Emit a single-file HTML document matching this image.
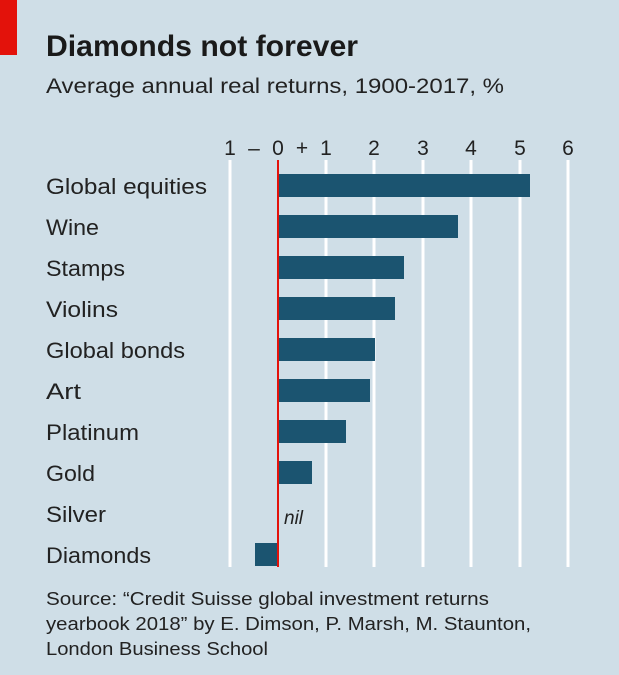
<!DOCTYPE html>
<html><head><style>
body{margin:0;width:619px;height:675px;background:#cfdee7;overflow:hidden;font-family:"Liberation Sans",sans-serif;color:#1a1a1a}
</style></head><body>
<svg width="619" height="675" xmlns="http://www.w3.org/2000/svg" style="position:absolute;left:0;top:0">
<rect width="619" height="675" fill="#cfdee7"/>
<rect x="0" y="0" width="17" height="55" fill="#e3120b"/>
<text x="46" y="56" font-size="30" font-weight="bold" fill="#1a1a1a" textLength="312" lengthAdjust="spacingAndGlyphs">Diamonds not forever</text>
<text x="46" y="93" font-size="21" fill="#222" textLength="458" lengthAdjust="spacingAndGlyphs">Average annual real returns, 1900-2017, %</text>
<g stroke="#ffffff" stroke-width="3">
<line x1="230" y1="160" x2="230" y2="567"/><line x1="326" y1="160" x2="326" y2="567"/>
<line x1="374" y1="160" x2="374" y2="567"/><line x1="423" y1="160" x2="423" y2="567"/>
<line x1="471" y1="160" x2="471" y2="567"/><line x1="520" y1="160" x2="520" y2="567"/>
<line x1="568" y1="160" x2="568" y2="567"/>
</g>
<g font-size="21" fill="#222" text-anchor="middle">
<text x="230" y="155">1</text><text x="254" y="155">–</text><text x="278" y="155">0</text><text x="302" y="155">+</text><text x="326" y="155">1</text><text x="374" y="155">2</text><text x="423" y="155">3</text><text x="471" y="155">4</text><text x="520" y="155">5</text><text x="568" y="155">6</text>
</g>
<g fill="#1b5470">
<rect x="278" y="174" width="252" height="23"/>
<rect x="278" y="215" width="180" height="23"/>
<rect x="278" y="256" width="126" height="23"/>
<rect x="278" y="297" width="117" height="23"/>
<rect x="278" y="338" width="97" height="23"/>
<rect x="278" y="379" width="92" height="23"/>
<rect x="278" y="420" width="68" height="23"/>
<rect x="278" y="461" width="34" height="23"/>
<rect x="255" y="543" width="23" height="23"/>
</g>
<line x1="278" y1="160" x2="278" y2="567" stroke="#e3120b" stroke-width="2"/>
<text x="284" y="524" font-size="19" font-style="italic" fill="#222">nil</text>
<g font-size="22" fill="#222" lengthAdjust="spacingAndGlyphs">
<text x="46" y="194" textLength="161" lengthAdjust="spacingAndGlyphs">Global equities</text>
<text x="46" y="235" textLength="53" lengthAdjust="spacingAndGlyphs">Wine</text>
<text x="46" y="276" textLength="79" lengthAdjust="spacingAndGlyphs">Stamps</text>
<text x="46" y="317" textLength="72" lengthAdjust="spacingAndGlyphs">Violins</text>
<text x="46" y="358" textLength="139" lengthAdjust="spacingAndGlyphs">Global bonds</text>
<text x="46" y="399" textLength="35" lengthAdjust="spacingAndGlyphs">Art</text>
<text x="46" y="440" textLength="93" lengthAdjust="spacingAndGlyphs">Platinum</text>
<text x="46" y="481" textLength="49" lengthAdjust="spacingAndGlyphs">Gold</text>
<text x="46" y="522" textLength="60" lengthAdjust="spacingAndGlyphs">Silver</text>
<text x="46" y="563" textLength="105" lengthAdjust="spacingAndGlyphs">Diamonds</text>
</g>
<g font-size="18" fill="#222">
<text x="46" y="605" textLength="443" lengthAdjust="spacingAndGlyphs">Source: “Credit Suisse global investment returns</text>
<text x="46" y="630" textLength="485" lengthAdjust="spacingAndGlyphs">yearbook 2018” by E. Dimson, P. Marsh, M. Staunton,</text>
<text x="46" y="655" textLength="222" lengthAdjust="spacingAndGlyphs">London Business School</text>
</g>
</svg>
</body></html>
